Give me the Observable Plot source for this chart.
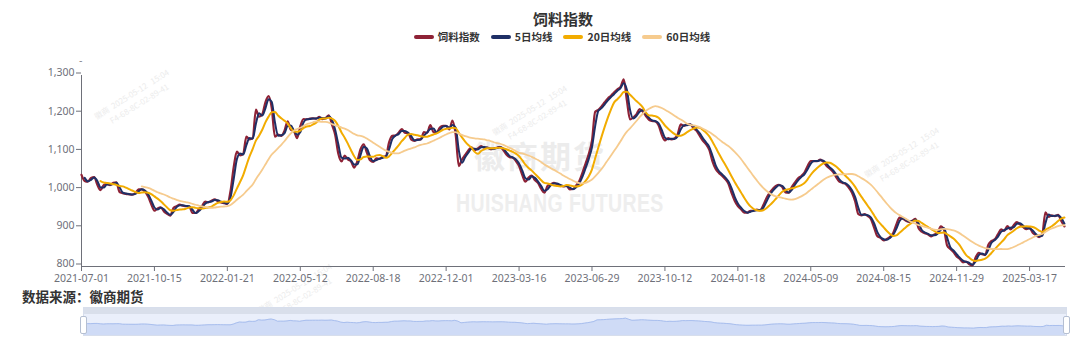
<!DOCTYPE html>
<html><head><meta charset="utf-8">
<script src="https://cdn.jsdelivr.net/npm/d3@7"></script>
<script src="https://cdn.jsdelivr.net/npm/@observablehq/plot@0.6"></script>
<style>
html,body{margin:0;padding:0;background:#fff;}
body{width:1080px;height:348px;overflow:hidden;position:relative;font-family:"Noto Sans CJK SC","Noto Sans",sans-serif;}
#title{position:absolute;left:0;width:1126px;top:8px;text-align:center;font-weight:700;font-size:15px;color:#333;line-height:22px;}
#legend{position:absolute;left:0;width:1124px;top:30px;display:flex;justify-content:center;align-items:center;gap:11px;font-size:10.5px;font-weight:700;color:#333;line-height:14px;}
#legend .it{display:flex;align-items:center;gap:4px;}
#legend .sw{width:20px;height:4px;border-radius:2px;display:inline-block;}
.wm{position:absolute;color:#ececec;white-space:nowrap;font-weight:700;}
.wm2{position:absolute;color:#ececec;font-size:8px;white-space:nowrap;transform:rotate(-32deg);transform-origin:left top;line-height:12px;}
#chart{position:absolute;left:0;top:0;}
#dash{position:absolute;left:79px;top:54px;font-size:10px;color:#6E7079;line-height:12px;}
#source{position:absolute;left:22px;top:289px;font-size:13.5px;font-weight:700;color:#333;line-height:14px;}
#slider{position:absolute;left:83px;top:307px;width:984px;height:29px;box-sizing:border-box;border:1px solid #d7deec;background:#eaeffb;}
#sliderTop{position:absolute;left:0;top:0;width:100%;height:6px;background:#d9dfeb;}
#shadow{position:absolute;left:0;top:6px;}
.handle{position:absolute;top:8px;width:5px;height:16px;background:#fff;border:1px solid #b5bfd2;border-radius:2px;}
</style></head>
<body>
<div class="wm" style="left:474px;top:132px;font-size:31px;letter-spacing:2px;font-family:'Noto Sans CJK SC';">徽商期货</div>
<div class="wm" style="left:456px;top:189px;font-size:25px;letter-spacing:0.5px;font-family:'Liberation Sans',sans-serif;color:#eeeeee;transform:scaleX(0.78);transform-origin:left top;">HUISHANG FUTURES</div>
<div class="wm2" style="left:92px;top:112px;">徽商&nbsp;&nbsp;2025-05-12&nbsp;&nbsp;&nbsp;15:04<br>&nbsp;&nbsp;&nbsp;&nbsp;&nbsp;&nbsp;F4-68-8C-02-89-41</div>
<div class="wm2" style="left:490px;top:128px;">徽商&nbsp;&nbsp;2025-05-12&nbsp;&nbsp;&nbsp;15:04<br>&nbsp;&nbsp;&nbsp;&nbsp;&nbsp;&nbsp;F4-68-8C-02-89-41</div>
<div class="wm2" style="left:862px;top:170px;">徽商&nbsp;&nbsp;2025-05-12&nbsp;&nbsp;&nbsp;15:04<br>&nbsp;&nbsp;&nbsp;&nbsp;&nbsp;&nbsp;F4-68-8C-02-89-41</div>
<div class="wm2" style="left:255px;top:306px;">徽商&nbsp;&nbsp;2025-05-12&nbsp;&nbsp;&nbsp;15:04<br>&nbsp;&nbsp;&nbsp;&nbsp;&nbsp;&nbsp;F4-68-8C-02-89-41</div>
<div id="chart"></div>
<div id="dash">-</div>
<div id="title">饲料指数</div>
<div id="legend"></div>
<div id="source">数据来源：徽商期货</div>
<div id="slider"><div id="sliderTop"></div><div id="shadow"></div><div class="handle" style="left:-4px;"></div><div class="handle" style="right:-4px;"></div></div>
<script>
// ---- data ----
const seriesNames = ["饲料指数", "5日均线", "20日均线", "60日均线"];
const seriesColors = ["#8E2236", "#1E2F66", "#F2AC00", "#F6CB8E"];
const maDays = [5, 20, 60];
const sampleStep = 3; // one reading every 3 trading days
const xLabels = ["2021-07-01","2021-10-15","2022-01-21","2022-05-12","2022-08-18","2022-12-01","2023-03-16","2023-06-29","2023-10-12","2024-01-18","2024-05-09","2024-08-15","2024-11-29","2025-03-17"];
const xTickDays = [0,69,138,207,276,345,414,483,552,621,690,759,828,897];
const lastDay = 931;
const yTicks = [800, 900, 1000, 1100, 1200, 1300];
// 饲料指数, read every 3 trading days from 2021-07-01
const feedIndex = [
1040,1024,1022,1032,1034,1014,1000,1013,1016,1013,
1019,1020,995,992,990,989,988,992,1002,1002,
996,983,963,946,952,955,944,938,933,953,
958,962,959,958,957,940,940,950,958,970,
968,972,976,971,968,966,964,998,1060,1101,
1091,1095,1140,1133,1136,1211,1192,1198,1230,1246,
1215,1140,1145,1142,1155,1180,1158,1154,1136,1167,
1186,1185,1187,1188,1187,1192,1186,1189,1196,1171,
1145,1095,1075,1090,1080,1075,1059,1076,1107,1120,
1098,1078,1074,1083,1082,1087,1089,1125,1142,1143,
1150,1160,1150,1150,1132,1129,1133,1133,1152,1150,
1170,1152,1150,1164,1168,1168,1159,1182,1145,1063,
1080,1092,1104,1112,1104,1109,1115,1111,1111,1107,
1109,1111,1113,1105,1093,1086,1085,1076,1063,1040,
1022,1033,1038,1026,1018,1003,993,1011,1015,1019,
1015,1012,1010,1011,1002,1003,1012,1024,1046,1070,
1095,1130,1205,1210,1219,1230,1240,1247,1256,1264,
1270,1290,1235,1185,1190,1198,1212,1206,1194,1184,
1181,1180,1170,1145,1130,1136,1133,1135,1146,1172,
1168,1172,1172,1162,1155,1142,1129,1120,1105,1075,
1055,1045,1038,1029,1017,993,972,958,950,941,
941,946,946,949,947,960,979,993,1003,1011,
1014,1008,994,993,1008,1020,1031,1037,1046,1063,
1076,1076,1076,1080,1074,1063,1056,1048,1034,1022,
1019,1016,1006,993,970,937,934,937,932,924,
901,879,875,868,872,878,888,910,928,925,
920,917,920,925,900,891,887,884,879,884,
888,905,896,855,846,838,826,820,811,813,
806,803,824,836,832,830,857,867,871,884,
897,893,906,897,908,916,910,903,898,901,
888,882,877,884,942,930,934,932,935,919,
905
];

const data = feedIndex.map((v, j) => ({day: j * sampleStep, v}));

// legend
const lg = document.getElementById("legend");
seriesNames.forEach((n, k) => {
  const it = document.createElement("div"); it.className = "it";
  it.innerHTML = `<span class="sw" style="background:${seriesColors[k]}"></span><span>${n}</span>`;
  lg.appendChild(it);
});

const axisColor = "#6E7079";
const maMarks = maDays.map((d, k) => Plot.line(data, Plot.windowY(
  {k: Math.round(d / sampleStep), anchor: "end", strict: true},
  {x: "day", y: "v", stroke: seriesColors[k + 1], strokeWidth: k === 2 ? 1.8 : 2, curve: "monotone-x"})));

const chart = Plot.plot({
  width: 1080, height: 290,
  marginLeft: 81, marginRight: 15, marginTop: 75, marginBottom: 24,
  style: {fontFamily: "'Noto Sans', sans-serif", fontSize: "10.5px", color: axisColor, background: "transparent", overflow: "visible"},
  x: {domain: [0, lastDay], label: null},
  y: {domain: [800, 1300], label: null},
  marks: [
    Plot.axisX({ticks: xTickDays, tickFormat: d => xLabels[xTickDays.indexOf(d)], tickSize: 5, tickPadding: 3.5, stroke: axisColor, fill: axisColor, label: null, fontSize: 10.5}),
    Plot.axisY({ticks: yTicks, tickFormat: d3.format(","), tickSize: 5, tickPadding: 2, stroke: axisColor, fill: axisColor, label: null, dy: -2.5}),
    Plot.ruleY([800], {stroke: axisColor}),
    Plot.ruleX([0], {stroke: axisColor}),
    Plot.line(data, {x: "day", y: "v", stroke: seriesColors[0], strokeWidth: 2.2, curve: "monotone-x"}),
    ...maMarks
  ]
});
document.getElementById("chart").appendChild(chart);

// dataZoom shadow
const shadow = Plot.plot({
  width: 982, height: 21, margin: 0,
  style: {background: "transparent"},
  x: {domain: [0, lastDay], axis: null},
  y: {domain: [445, 1468], axis: null},
  marks: [
    Plot.areaY(data, {x: "day", y: "v", fill: "#cfdbf6", clip: true}),
    Plot.line(data, {x: "day", y: "v", stroke: "#a9bfee", strokeWidth: 1})
  ]
});
document.getElementById("shadow").appendChild(shadow);
</script>
</body></html>
